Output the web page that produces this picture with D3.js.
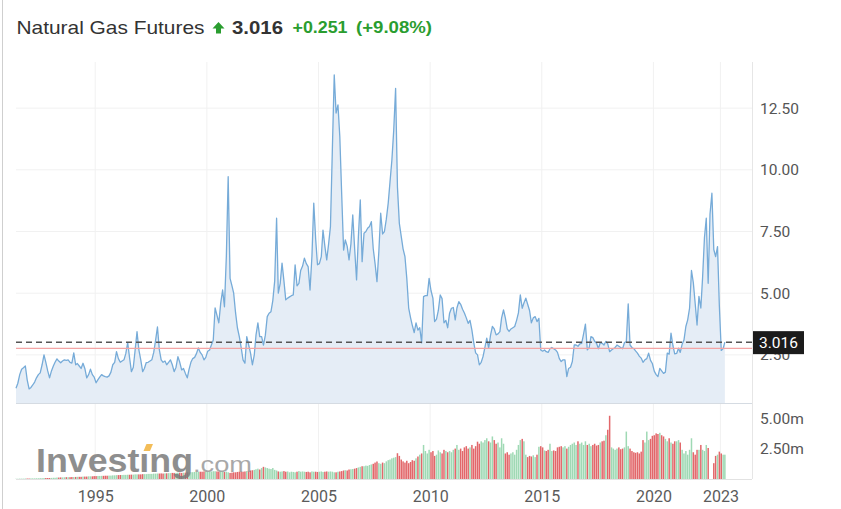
<!DOCTYPE html>
<html>
<head>
<meta charset="utf-8">
<script src="https://cdn.jsdelivr.net/npm/d3@7"></script>
<style>
  body { margin: 0; background: #fff; }
  svg { display: block; font-family: Roboto, "Liberation Sans", Arial, sans-serif; }
</style>
</head>
<body>
<svg id="chart"></svg>
<script>
// monthly closes, first month is June 1991
let firstMonth = new Date(1991, 5, 15);

let closes = [
  1.15, 1.35, 1.70, 1.92, 1.98, 2.05, 1.49,
  1.12, 1.18, 1.28, 1.40, 1.57, 1.70, 1.77, 2.10, 2.50, 2.20, 1.85, 1.57,
  1.85, 2.05, 2.20, 2.34, 2.25, 2.18, 2.25, 2.30, 2.28, 2.30, 2.20, 2.17,
  2.58, 2.10, 2.15, 2.05, 1.95, 2.16, 1.95, 1.57, 1.70, 1.92, 1.70, 1.60,
  1.37, 1.50, 1.60, 1.70, 1.65, 1.62, 1.60, 1.65, 1.80, 2.10, 2.20, 2.63,
  2.35, 2.20, 2.25, 2.30, 2.55, 3.00, 2.40, 1.82, 2.00, 2.70, 3.44, 2.70,
  2.30, 1.82, 1.95, 2.19, 2.20, 2.25, 2.30, 2.60, 3.10, 3.63, 2.70, 2.30,
  2.20, 2.25, 2.10, 2.20, 2.30, 2.10, 1.82, 2.00, 2.43, 2.20, 1.89, 1.95,
  1.75, 1.57, 1.90, 2.20, 2.35, 2.40, 2.55, 2.78, 2.60, 2.50, 2.30, 2.40,
  2.65, 2.70, 2.90, 3.10, 4.40, 4.10, 3.80, 4.60, 5.13, 4.45, 6.50, 9.72,
  5.60, 5.30, 5.00, 4.20, 3.60, 3.24, 2.80, 2.30, 2.16, 3.24, 2.90, 2.58,
  2.10, 2.50, 3.30, 3.80, 3.24, 3.24, 2.90, 3.30, 4.05, 4.19, 4.25, 4.70,
  5.50, 8.04, 5.00, 5.40, 6.22, 5.50, 4.73, 4.80, 4.85, 4.90, 4.93, 6.15,
  5.30, 5.40, 5.92, 6.10, 6.42, 6.20, 6.08, 5.13, 6.50, 8.65, 7.20, 6.15,
  6.20, 6.48, 7.56, 6.90, 6.35, 7.00, 7.70, 10.80, 13.85, 12.30, 12.63, 11.35,
  9.00, 6.75, 7.16, 6.90, 6.35, 7.00, 8.17, 6.80, 5.54, 7.30, 8.78, 6.28,
  7.43, 7.50, 7.63, 7.70, 7.90, 6.80, 6.20, 5.47, 6.70, 8.24, 7.40, 7.50,
  8.00, 8.65, 9.50, 10.40, 11.60, 13.30, 9.30, 7.83, 7.30, 6.80, 6.48, 5.60,
  4.40, 4.00, 3.70, 3.40, 3.80, 3.50, 3.60, 2.99, 4.86, 4.90, 4.90, 5.60,
  5.10, 4.80, 3.85, 3.95, 4.30, 4.93, 4.78, 3.80, 3.90, 3.60, 4.19, 4.39,
  4.42, 3.92, 4.40, 4.66, 4.55, 4.35, 4.20, 4.00, 3.78, 3.90, 3.50, 3.00,
  2.58, 2.50, 2.10, 2.20, 2.43, 2.80, 3.18, 2.77, 3.30, 3.65, 3.55, 3.31,
  3.35, 3.44, 4.00, 4.32, 4.00, 3.55, 3.45, 3.55, 3.60, 3.65, 3.90, 4.20,
  4.93, 4.39, 4.60, 4.80, 4.55, 4.30, 3.80, 4.00, 4.05, 3.85, 3.98, 2.70,
  2.65, 2.70, 2.63, 2.60, 2.75, 2.80, 2.75, 2.70, 2.60, 2.35, 2.23, 2.30,
  2.30, 1.62, 1.95, 2.00, 2.23, 2.90, 2.90, 2.85, 2.95, 2.97, 3.35, 3.75,
  2.70, 2.80, 3.24, 3.20, 3.05, 2.97, 2.75, 3.00, 2.97, 2.90, 3.05, 2.95,
  2.63, 2.70, 2.75, 2.80, 2.90, 2.85, 2.80, 2.75, 3.00, 3.04, 4.57, 2.90,
  2.80, 2.75, 2.66, 2.57, 2.45, 2.37, 2.20, 2.30, 2.35, 2.57, 2.28, 2.15,
  1.84, 1.70, 1.62, 1.95, 1.85, 1.75, 1.80, 2.57, 2.53, 3.38, 2.88, 2.54,
  2.56, 2.77, 2.60, 2.93, 3.10, 3.65, 3.92, 4.40, 5.92, 5.43, 4.57, 3.71,
  4.87, 4.40, 5.60, 7.24, 8.04, 5.40, 8.20, 9.05, 6.77, 6.48, 6.89, 4.48,
  2.68, 2.76, 3.016
];

// monthly volume, millions
let volumes = [
  0.02, 0.02, 0.03, 0.03, 0.03, 0.04, 0.04,
  0.04, 0.05, 0.05, 0.05, 0.06, 0.06, 0.07, 0.07, 0.08, 0.08, 0.08, 0.08,
  0.09, 0.10, 0.10, 0.12, 0.12, 0.13, 0.13, 0.14, 0.15, 0.15, 0.15, 0.16,
  0.16, 0.17, 0.18, 0.18, 0.18, 0.20, 0.20, 0.20, 0.22, 0.22, 0.22, 0.24,
  0.24, 0.25, 0.25, 0.26, 0.26, 0.27, 0.27, 0.28, 0.28, 0.30, 0.30, 0.32,
  0.32, 0.33, 0.33, 0.34, 0.34, 0.35, 0.35, 0.36, 0.36, 0.38, 0.38, 0.38,
  0.38, 0.40, 0.40, 0.40, 0.42, 0.42, 0.42, 0.44, 0.44, 0.45, 0.45, 0.46,
  0.45, 0.46, 0.47, 0.48, 0.48, 0.50, 0.50, 0.50, 0.52, 0.52, 0.50, 0.52,
  0.52, 0.55, 0.55, 0.56, 0.56, 0.58, 0.58, 0.60, 0.60, 0.60, 0.62, 0.60,
  0.60, 0.62, 0.62, 0.64, 0.64, 0.62, 0.60, 0.62, 0.60, 0.58, 0.60, 0.55,
  0.50, 0.52, 0.55, 0.55, 0.58, 0.60, 0.62, 0.60, 0.62, 0.65, 0.68, 0.70,
  0.72, 0.75, 0.80, 0.85, 0.78, 0.90, 1.00, 0.95, 0.90, 0.85, 0.82, 0.90,
  0.75, 0.70, 0.62, 0.60, 0.62, 0.65, 0.60, 0.62, 0.55, 0.60, 0.58, 0.55,
  0.60, 0.65, 0.60, 0.62, 0.60, 0.58, 0.60, 0.55, 0.62, 0.60, 0.60, 0.58,
  0.60, 0.62, 0.58, 0.60, 0.62, 0.60, 0.62, 0.60, 0.55, 0.55, 0.60, 0.62,
  0.65, 0.70, 0.72, 0.70, 0.78, 0.80, 0.82, 0.85, 0.90, 0.95, 1.00, 1.05,
  1.05, 1.10, 1.08, 1.15, 1.20, 1.25, 1.35, 1.44, 1.30, 1.25, 1.35, 1.30,
  1.45, 1.55, 1.60, 1.70, 1.75, 1.80, 2.12, 1.90, 1.60, 1.45, 1.35, 1.50,
  1.30, 1.40, 1.55, 1.50, 1.70, 1.85, 2.00, 2.10, 2.80, 2.30, 2.10, 2.40,
  2.20, 2.30, 1.90, 2.00, 2.35, 2.20, 2.10, 2.40, 2.30, 2.20, 2.30, 2.20,
  2.40, 2.50, 2.80, 2.40, 2.50, 2.30, 2.60, 2.70, 2.50, 2.60, 2.80, 2.50,
  2.70, 3.07, 2.90, 3.10, 3.00, 3.20, 3.35, 3.10, 3.00, 3.50, 3.20, 2.90,
  3.00, 2.60, 3.35, 2.90, 2.10, 2.20, 2.00, 2.10, 2.20, 2.00, 2.40, 2.80,
  3.20, 3.30, 3.10, 2.00, 1.80, 1.90, 1.85, 1.95, 1.80, 2.00, 2.65, 2.70,
  2.60, 2.35, 2.30, 2.40, 2.90, 2.30, 2.35, 2.30, 2.60, 2.65, 2.70, 2.60,
  2.70, 2.50, 2.65, 2.80, 2.90, 3.00, 2.80, 3.10, 2.90, 3.00, 2.80, 3.10,
  2.80, 2.90, 2.70, 2.80, 2.90, 2.75, 2.80, 3.00, 3.10, 3.15, 3.60, 4.05,
  5.20, 2.60, 2.50, 2.40, 2.50, 2.60, 2.45, 2.50, 2.60, 3.90, 2.70, 2.50,
  2.30, 2.20, 2.15, 2.20, 2.10, 2.25, 3.20, 3.00, 3.90, 3.20, 3.30, 3.55,
  3.60, 3.75, 3.70, 3.80, 3.60, 3.50, 3.30, 3.10, 3.35, 3.00, 2.90, 3.10,
  3.10, 3.20, 3.00, 2.40, 2.10, 2.30, 2.00, 2.40, 3.35, 2.20, 2.00, 2.40,
  2.40, 2.80, 2.40, 2.30, 2.80, 2.55, 0, 0, 1.30, 1.90, 2.00, 2.25,
  2.10, 2.00, 2.00
];

let lastPrice = 3.016;
let prevClose = 2.765;
let priceTicks = [2.5, 5, 7.5, 10, 12.5];
let volumeTicks = [2.5, 5];
let yearTicks = [1995, 2000, 2005, 2010, 2015, 2020, 2023];

let width = 841;
let height = 509;
let left = 16;
let right = 752;
let priceTop = 62;
let priceBottom = 403;
let volBottom = 479;

let svg = d3.select("#chart").attr("width", width).attr("height", height);

let data = closes.map((c, i) => ({
  date: new Date(firstMonth.getFullYear(), firstMonth.getMonth() + i, 15),
  close: c,
  volume: volumes[i],
  up: i === 0 ? true : c >= closes[i - 1]
}));

let xScale = d3.scaleTime()
  .domain([new Date(1991, 5, 15), new Date(2024, 5, 1)])
  .range([left, right]);

let yScale = d3.scaleLinear()
  .domain([0.55, 14.37])
  .range([priceBottom, priceTop]);

let vScale = d3.scaleLinear()
  .domain([0, 6.25])
  .range([volBottom, priceBottom]);

// left frame line
svg.append("line")
  .attr("x1", 2.5).attr("x2", 2.5).attr("y1", 0).attr("y2", height)
  .attr("stroke", "#cfcfcf");

// title
svg.append("text")
  .attr("x", 16.5).attr("y", 33.5)
  .attr("textLength", 188).attr("lengthAdjust", "spacingAndGlyphs")
  .style("font-family", "'Liberation Sans', Arial, sans-serif")
  .style("font-size", "18.5px")
  .attr("fill", "#333")
  .text("Natural Gas Futures");

svg.append("path")
  .attr("d", "M218.5,22 L224.5,28.5 L221,28.5 L221,33.5 L216,33.5 L216,28.5 L212.5,28.5 Z")
  .attr("fill", "#2a9d2f");

svg.append("text")
  .attr("x", 232).attr("y", 33.5)
  .attr("textLength", 51).attr("lengthAdjust", "spacingAndGlyphs")
  .style("font-family", "'Liberation Sans', Arial, sans-serif")
  .style("font-size", "19px").style("font-weight", "bold")
  .attr("fill", "#333")
  .text(lastPrice.toFixed(3));

svg.append("text")
  .attr("x", 292.5).attr("y", 33)
  .attr("textLength", 55).attr("lengthAdjust", "spacingAndGlyphs")
  .style("font-family", "'Liberation Sans', Arial, sans-serif")
  .style("font-size", "16px").style("font-weight", "bold")
  .attr("fill", "#2a9d2f")
  .text("+" + (lastPrice - prevClose).toFixed(3));

svg.append("text")
  .attr("x", 356).attr("y", 33)
  .attr("textLength", 76).attr("lengthAdjust", "spacingAndGlyphs")
  .style("font-family", "'Liberation Sans', Arial, sans-serif")
  .style("font-size", "16px").style("font-weight", "bold")
  .attr("fill", "#2a9d2f")
  .text("(+9.08%)");

// grid
svg.append("g").selectAll("line")
  .data(priceTicks)
  .enter().append("line")
  .attr("x1", left).attr("x2", right)
  .attr("y1", (d) => yScale(d)).attr("y2", (d) => yScale(d))
  .attr("stroke", "#f1f1f1");

svg.append("g").selectAll("line")
  .data(yearTicks)
  .enter().append("line")
  .attr("x1", (d) => xScale(new Date(d, 0, 1))).attr("x2", (d) => xScale(new Date(d, 0, 1)))
  .attr("y1", priceTop).attr("y2", volBottom)
  .attr("stroke", "#f1f1f1");

// price area + line
let area = d3.area()
  .x((d) => xScale(d.date))
  .y0(priceBottom)
  .y1((d) => yScale(d.close));

let line = d3.line()
  .x((d) => xScale(d.date))
  .y((d) => yScale(d.close));

svg.append("path").datum(data)
  .attr("d", area)
  .attr("fill", "#e5edf6");

svg.append("path").datum(data)
  .attr("d", line)
  .attr("fill", "none")
  .attr("stroke", "#76abd8")
  .attr("stroke-width", 1.3)
  .attr("stroke-linejoin", "round");

// previous close and last price lines
svg.append("line")
  .attr("x1", left).attr("x2", right)
  .attr("y1", yScale(prevClose)).attr("y2", yScale(prevClose))
  .attr("stroke", "#f3a5a5").attr("stroke-width", 1.2);

svg.append("line")
  .attr("x1", left).attr("x2", right)
  .attr("y1", yScale(lastPrice)).attr("y2", yScale(lastPrice))
  .attr("stroke", "#555").attr("stroke-width", 1.5)
  .attr("stroke-dasharray", "6,4");

// pane borders
svg.append("line")
  .attr("x1", left).attr("x2", right)
  .attr("y1", priceBottom + 0.5).attr("y2", priceBottom + 0.5)
  .attr("stroke", "#d5dbe2");
svg.append("line")
  .attr("x1", left).attr("x2", right)
  .attr("y1", volBottom + 0.5).attr("y2", volBottom + 0.5)
  .attr("stroke", "#e2e2e2");
svg.append("line")
  .attr("x1", right + 0.5).attr("x2", right + 0.5)
  .attr("y1", priceTop).attr("y2", volBottom)
  .attr("stroke", "#e6e6e6");

// volume bars
svg.append("g").selectAll("rect")
  .data(data)
  .enter().append("rect")
  .attr("x", (d) => xScale(d.date) - 0.75)
  .attr("width", 1.5)
  .attr("y", (d) => vScale(d.volume))
  .attr("height", (d) => volBottom - vScale(d.volume))
  .attr("fill", (d) => (d.up ? "#9fd9b4" : "#e2676a"));

// watermark
let mark = svg.append("g").attr("opacity", 0.85);
mark.append("text")
  .attr("x", 36).attr("y", 471.5)
  .attr("textLength", 157).attr("lengthAdjust", "spacingAndGlyphs")
  .style("font-family", "'Liberation Sans', Arial, sans-serif")
  .style("font-size", "34px").style("font-weight", "bold")
  .attr("fill", "#7b7b7b")
  .text("Investıng");
mark.append("path")
  .attr("d", "M143.5,451 L146.5,444 L153,444 L150,451 Z")
  .attr("fill", "#f2b23c");
mark.append("text")
  .attr("x", 193).attr("y", 471.5)
  .attr("textLength", 59).attr("lengthAdjust", "spacingAndGlyphs")
  .style("font-family", "'Liberation Sans', Arial, sans-serif")
  .style("font-size", "22px")
  .attr("fill", "#9a9a9a")
  .text(".com");

// axes
let xAxis = d3.axisBottom(xScale)
  .tickValues(yearTicks.map((y) => new Date(y, 0, 1)))
  .tickFormat(d3.timeFormat("%Y"))
  .tickSize(0)
  .tickPadding(12);

let gx = svg.append("g")
  .attr("transform", `translate(0, ${volBottom})`)
  .call(xAxis);
gx.select(".domain").remove();
gx.selectAll("text")
  .style("font-family", "Roboto, sans-serif")
  .style("font-size", "16px")
  .attr("fill", "#5b5b5b");

let yAxis = d3.axisRight(yScale)
  .tickValues(priceTicks)
  .tickFormat(d3.format(".2f"))
  .tickSize(0)
  .tickPadding(8);

let gy = svg.append("g")
  .attr("transform", `translate(${right}, 0)`)
  .call(yAxis);
gy.select(".domain").remove();
gy.selectAll("text")
  .style("font-family", "Roboto, sans-serif")
  .style("font-size", "15.5px")
  .attr("fill", "#555");

let vAxis = d3.axisRight(vScale)
  .tickValues(volumeTicks)
  .tickFormat((d) => d.toFixed(2) + "m")
  .tickSize(0)
  .tickPadding(8);

let gv = svg.append("g")
  .attr("transform", `translate(${right}, 0)`)
  .call(vAxis);
gv.select(".domain").remove();
gv.selectAll("text")
  .style("font-family", "Roboto, sans-serif")
  .style("font-size", "15.5px")
  .attr("fill", "#555");

// last price label, drawn over the 2.50 tick as in the source
let labelY = yScale(lastPrice);
svg.append("rect")
  .attr("x", right + 1).attr("y", labelY - 11)
  .attr("width", 51).attr("height", 23)
  .attr("fill", "#1b1b1b");
svg.append("text")
  .attr("x", right + 26.5).attr("y", labelY + 0.5)
  .attr("dy", "0.35em")
  .attr("text-anchor", "middle")
  .style("font-family", "Roboto, sans-serif")
  .style("font-size", "15.5px")
  .attr("fill", "#fff")
  .text(lastPrice.toFixed(3));
</script>
</body>
</html>
